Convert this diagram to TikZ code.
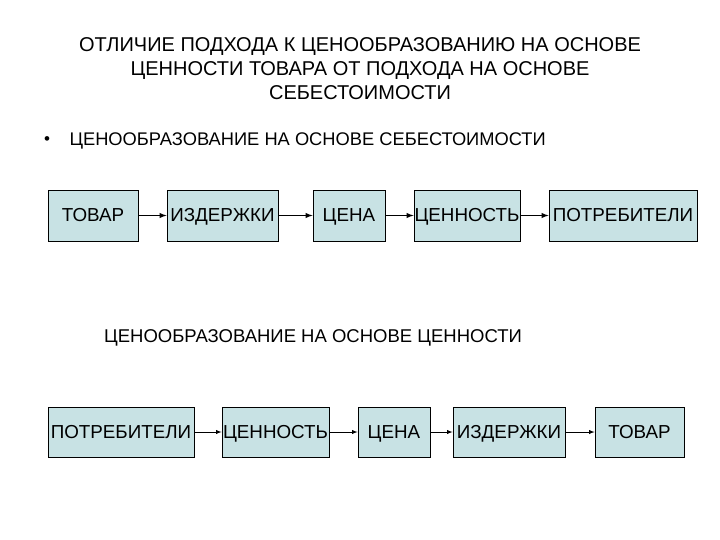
\documentclass[tikz,border=0pt]{standalone}
\usepackage{fontspec}
\setmainfont{Liberation Sans}
\begin{document}
\begin{tikzpicture}[x=1pt,y=-1pt,
  bx/.style={draw=black,fill={rgb,255:red,200;green,226;blue,228},line width=0.8pt,inner sep=0pt,text height=13pt,text depth=1pt,font=\fontsize{18.8}{20}\selectfont},
  ar/.style={-latex,line width=1.4pt},
  ar2/.style={-latex,line width=0.9pt}]
\useasboundingbox (0,0) rectangle (720,540);
\node[align=center,font=\fontsize{20}{24}\selectfont] (t) at (360,69) {ОТЛИЧИЕ ПОДХОДА К ЦЕНООБРАЗОВАНИЮ НА ОСНОВЕ\\ЦЕННОСТИ ТОВАРА ОТ ПОДХОДА НА ОСНОВЕ\\СЕБЕСТОИМОСТИ};
\node[font=\fontsize{17}{18}\selectfont] (b) at (47,141) {•};
\node[anchor=west,font=\fontsize{18.3}{20}\selectfont] (s1) at (66,141) {ЦЕНООБРАЗОВАНИЕ НА ОСНОВЕ СЕБЕСТОИМОСТИ};
\node[font=\fontsize{18.5}{20}\selectfont] (s2) at (313,338) {ЦЕНООБРАЗОВАНИЕ НА ОСНОВЕ ЦЕННОСТИ};
\node[bx,minimum width=90,minimum height=51] (a1) at (93,215.5) {ТОВАР};
\node[bx,minimum width=111,minimum height=51] (a2) at (222.5,215.5) {ИЗДЕРЖКИ};
\node[bx,minimum width=72,minimum height=51] (a3) at (349,215.5) {ЦЕНА};
\node[bx,minimum width=106,minimum height=51] (a4) at (467,215.5) {ЦЕННОСТЬ};
\node[bx,minimum width=148,minimum height=51] (a5) at (623,215.5) {ПОТРЕБИТЕЛИ};
\draw[ar] (a1) -- (a2); \draw[ar] (a2) -- (a3); \draw[ar] (a3) -- (a4); \draw[ar] (a4) -- (a5);
\node[bx,minimum width=146,minimum height=50] (b1) at (121,432) {ПОТРЕБИТЕЛИ};
\node[bx,minimum width=107,minimum height=50] (b2) at (275.5,432) {ЦЕННОСТЬ};
\node[bx,minimum width=72,minimum height=50] (b3) at (394,432) {ЦЕНА};
\node[bx,minimum width=112,minimum height=50] (b4) at (509,432) {ИЗДЕРЖКИ};
\node[bx,minimum width=89,minimum height=50] (b5) at (639.5,432) {ТОВАР};
\draw[ar2] (b1) -- (b2); \draw[ar2] (b2) -- (b3); \draw[ar2] (b3) -- (b4); \draw[ar2] (b4) -- (b5);
\end{tikzpicture}
\end{document}
